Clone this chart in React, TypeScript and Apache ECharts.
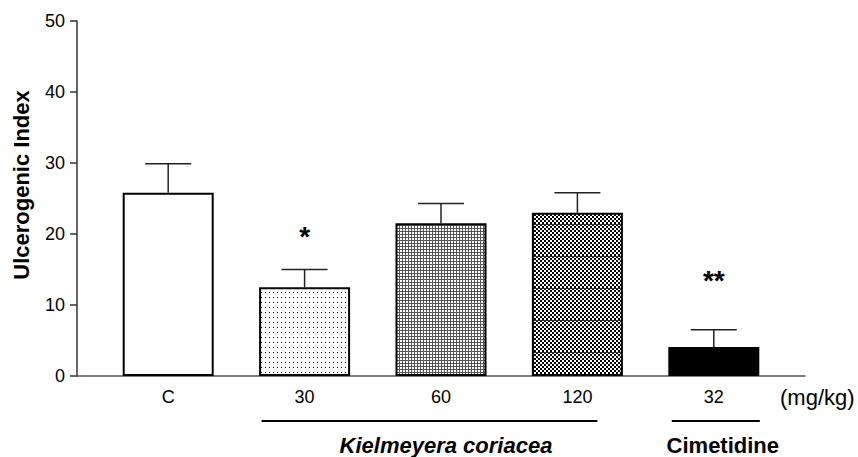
import React, { useEffect, useRef } from "react";
import * as echarts from "echarts";

// ---- data ----
const categories = ["C", "30", "60", "120", "32"];
const means = [25.8, 12.5, 21.5, 23.0, 4.1];
const errors = [4.1, 2.5, 2.8, 2.8, 2.4];
const sigLabels = ["", "*", "", "", "**"];
const sigLevels = [0, 19.7, 0, 0, 13.5];
const groupNames = ["Kielmeyera coriacea", "Cimetidine"];
const groupFrom = [1, 4];
const groupTo = [3, 4];
const yMin = 0;
const yMax = 50;
const yStep = 10;
const yTitle = "Ulcerogenic Index";
const unitLabel = "(mg/kg)";

// ---- style ----
const FONT = "'Liberation Sans', Arial, Helvetica, sans-serif";
const groupStyle = [
  { left: -43, right: 20, italic: true, dx: 5 },
  { left: -42, right: 46, italic: false, dx: 9 },
];

function makePattern(w: number, h: number, draw: (c: CanvasRenderingContext2D) => void) {
  const cv = document.createElement("canvas");
  cv.width = w;
  cv.height = h;
  const ctx = cv.getContext("2d")!;
  ctx.fillStyle = "#fff";
  ctx.fillRect(0, 0, w, h);
  draw(ctx);
  return { image: cv, repeat: "repeat" } as any;
}

export default function App() {
  const ref = useRef<HTMLDivElement>(null);
  useEffect(() => {
    if (!ref.current) return;
    const chart = echarts.init(ref.current, undefined, { renderer: "svg" });

    const dots = makePattern(4, 5, (c) => {
      c.fillStyle = "#000";
      c.fillRect(1, 2, 1, 1);
    });
    const grid = makePattern(3, 3, (c) => {
      c.fillStyle = "#555";
      c.fillRect(0, 0, 3, 1);
      c.fillRect(0, 0, 1, 3);
    });
    const checker = makePattern(4, 32, (c) => {
      c.fillStyle = "#000";
      for (let y = 0; y < 32; y += 2)
        for (let x = 0; x < 4; x += 2)
          if (((x + y) / 2) % 2 === 0) c.fillRect(x, y, 2, 2);
      c.fillStyle = "#333";
      c.fillRect(0, 0, 4, 1);
    });
    const fills: any[] = ["#fff", dots, grid, checker, "#000"];

    const top = 21;
    const height = 355;

    chart.setOption({
      animation: false,
      grid: [
        { left: 77, right: 53, top, height, containLabel: false },
        { left: 100, right: 76, top, height, containLabel: false },
      ],
      xAxis: [
        {
          type: "value",
          gridIndex: 0,
          min: 0,
          max: 1,
          axisLine: { show: true, onZero: false, lineStyle: { color: "#555", width: 1.5 } },
          axisTick: { show: false },
          axisLabel: { show: false },
          splitLine: { show: false },
        },
        {
          type: "category",
          gridIndex: 1,
          data: categories,
          axisLine: { show: false },
          axisTick: { show: false },
          axisLabel: { color: "#000", fontSize: 18, fontFamily: FONT, margin: 12 },
          splitLine: { show: false },
        },
      ],
      yAxis: [
        {
          type: "value",
          gridIndex: 0,
          min: yMin,
          max: yMax,
          interval: yStep,
          axisLine: { show: true, lineStyle: { color: "#333", width: 1.5 } },
          axisTick: { show: true, length: 7, lineStyle: { color: "#333", width: 1.5 } },
          axisLabel: { color: "#000", fontSize: 18, fontFamily: FONT, margin: 12 },
          splitLine: { show: false },
        },
        {
          type: "value",
          gridIndex: 1,
          min: yMin,
          max: yMax,
          show: false,
          splitLine: { show: false },
        },
      ],
      series: [
        {
          type: "bar",
          xAxisIndex: 1,
          yAxisIndex: 1,
          barWidth: 91,
          data: means.map((v, i) => ({
            value: v,
            itemStyle: { color: fills[i], borderColor: "#000", borderWidth: 2 },
          })),
        },
        {
          type: "custom",
          xAxisIndex: 1,
          yAxisIndex: 1,
          z: 3,
          data: means.map((m, i) => [i, m, m + errors[i]]),
          renderItem: (params: any, api: any) => {
            const p0 = api.coord([api.value(0), api.value(1)]);
            const p1 = api.coord([api.value(0), api.value(2)]);
            const st = { stroke: "#222", lineWidth: 1.5 };
            return {
              type: "group",
              children: [
                { type: "line", shape: { x1: p0[0], y1: p0[1], x2: p1[0], y2: p1[1] }, style: st },
                { type: "line", shape: { x1: p1[0] - 23, y1: p1[1], x2: p1[0] + 23, y2: p1[1] }, style: st },
              ],
            };
          },
        },
        {
          type: "custom",
          xAxisIndex: 1,
          yAxisIndex: 1,
          z: 4,
          data: sigLevels.map((v, i) => [i, v]),
          renderItem: (params: any, api: any) => {
            const lab = sigLabels[params.dataIndex];
            if (!lab) return null;
            const p = api.coord([api.value(0), api.value(1)]);
            return {
              type: "text",
              x: p[0],
              y: p[1],
              style: {
                text: lab,
                fill: "#000",
                font: `bold 28px ${FONT}`,
                align: "center",
                verticalAlign: "middle",
              },
            };
          },
        },
        {
          type: "custom",
          xAxisIndex: 1,
          yAxisIndex: 1,
          z: 4,
          clip: false,
          data: groupNames.map((n, i) => [groupFrom[i], groupTo[i]]),
          renderItem: (params: any, api: any) => {
            const i = params.dataIndex;
            const a = api.coord([groupFrom[i], yMin]);
            const b = api.coord([groupTo[i], yMin]);
            const gs = groupStyle[i];
            const ly = a[1] + 45;
            return {
              type: "group",
              children: [
                {
                  type: "line",
                  shape: { x1: a[0] + gs.left, y1: ly, x2: b[0] + gs.right, y2: ly },
                  style: { stroke: "#000", lineWidth: 2 },
                },
                {
                  type: "text",
                  x: (a[0] + b[0]) / 2 + gs.dx,
                  y: a[1] + 69,
                  style: {
                    text: groupNames[i],
                    fill: "#000",
                    font: `${gs.italic ? "italic " : ""}bold 22px ${FONT}`,
                    align: "center",
                    verticalAlign: "middle",
                  },
                },
              ],
            };
          },
        },
      ],
      graphic: [
        {
          type: "text",
          left: 780,
          top: 386,
          style: { text: unitLabel, fill: "#000", font: `22px ${FONT}` },
        },
        {
          type: "text",
          x: 10,
          y: 185,
          rotation: Math.PI / 2,
          style: {
            text: yTitle,
            fill: "#000",
            font: `bold 22px ${FONT}`,
            align: "center",
            verticalAlign: "top",
          },
        },
      ],
    });

    return () => chart.dispose();
  }, []);

  return (
    <div
      ref={ref}
      style={{ position: "absolute", left: 0, top: 0, width: 858, height: 457 }}
    />
  );
}
